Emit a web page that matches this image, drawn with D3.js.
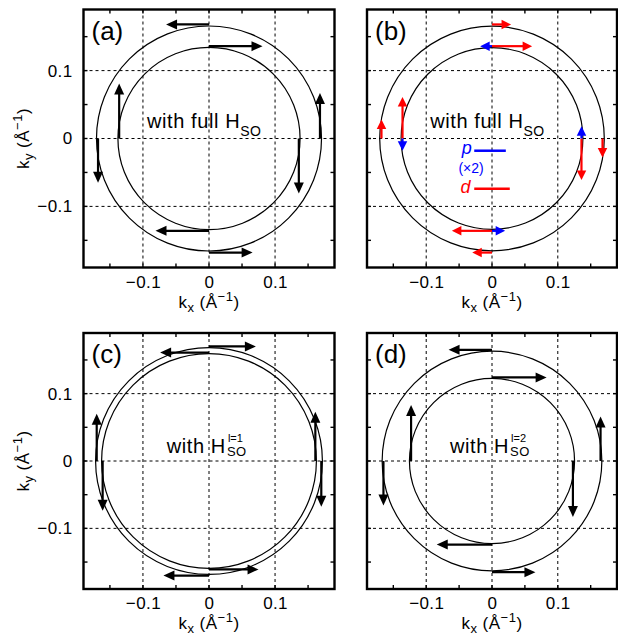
<!DOCTYPE html>
<html>
<head>
<meta charset="utf-8">
<script src="https://cdn.jsdelivr.net/npm/d3@7"></script>
<style>
body { margin: 0; background: #fff; }
text { font-family: "Liberation Sans", Arial, Helvetica, sans-serif; fill: #000; }
</style>
</head>
<body>
<div id="fig"></div>
<script>
// axis setup (1/Å)
var domain = [-0.19, 0.19];
var gridValues = [-0.1, 0, 0.1];
var minorValues = [-0.15, -0.1, -0.05, 0, 0.05, 0.1, 0.15];
var tickLabels = [-0.1, 0, 0.1];

// Fermi contour radii [outer, inner]
var ringsA = [0.168, 0.136];
var ringsB = [0.168, 0.136];
var ringsC = [0.170, 0.161];
var ringsD = [0.165, 0.124];

// spin arrows: [kx, ky, dkx, dky]
var arrowsA = [
  [0, 0.168, -0.065, 0], [0, 0.136, 0.081, 0],
  [-0.136, 0, 0, 0.081], [-0.168, 0, 0, -0.065],
  [0.136, 0, 0, -0.081], [0.168, 0, 0, 0.067],
  [0, -0.136, -0.081, 0], [0, -0.168, 0.066, 0]
];
var arrowsBd = [
  [0, 0.168, 0.029, 0], [0, 0.136, 0.061, 0],
  [-0.136, 0, 0, 0.061], [-0.168, 0, 0, 0.028],
  [0.136, 0, 0, -0.061], [0.168, 0, 0, -0.028],
  [0, -0.136, -0.061, 0], [0, -0.168, -0.030, 0]
];
var arrowsBp = [
  [0, 0.136, -0.018, 0], [-0.136, 0, 0, -0.018],
  [0.136, 0, 0, 0.018], [0, -0.136, 0.020, 0]
];
var arrowsC = [
  [0, 0.170, 0.071, 0], [0, 0.161, -0.074, 0],
  [-0.170, 0, 0, 0.070], [-0.161, 0, 0, -0.074],
  [0.161, 0, 0, 0.073], [0.170, 0, 0, -0.068],
  [0, -0.170, -0.069, 0], [0, -0.161, 0.075, 0]
];
var arrowsD = [
  [0, 0.165, -0.066, 0], [0, 0.124, 0.083, 0],
  [-0.123, 0, 0, 0.083], [-0.165, 0, 0, -0.066],
  [0.123, 0, 0, -0.083], [0.165, 0, 0, 0.066],
  [0, -0.124, -0.084, 0], [0, -0.165, 0.066, 0]
];

var panels = [
  {tag: "(a)", x: [83.5, 334.5], y: [9.5, 267.5], rings: ringsA, sets: [[arrowsA, "#000"]], label: "full", yAxis: true},
  {tag: "(b)", x: [367, 617], y: [9.5, 267.5], rings: ringsB, sets: [[arrowsBd, "#f00"], [arrowsBp, "#00f"]], label: "full", legend: true},
  {tag: "(c)", x: [83.5, 334.5], y: [333, 589], rings: ringsC, sets: [[arrowsC, "#000"]], label: "l=1", yAxis: true},
  {tag: "(d)", x: [367, 617], y: [333, 589], rings: ringsD, sets: [[arrowsD, "#000"]], label: "l=2"}
];

var svg = d3.select("#fig").append("svg")
  .attr("width", 618).attr("height", 640);

function drawArrow(g, sx, sy, a, color) {
  var x1 = sx(a[0]), y1 = sy(a[1]), x2 = sx(a[0] + a[2]), y2 = sy(a[1] + a[3]);
  var len = Math.hypot(x2 - x1, y2 - y1), ux = (x2 - x1) / len, uy = (y2 - y1) / len;
  var head = color == "#000" ? 11 : 9.5, hw = color == "#000" ? 10 : 9.5;
  var bx = x2 - ux * head, by = y2 - uy * head;
  g.append("line")
    .attr("x1", x1).attr("y1", y1).attr("x2", bx + ux).attr("y2", by + uy)
    .attr("stroke", color).attr("stroke-width", 2.2);
  g.append("polygon")
    .attr("points", [[x2, y2], [bx - uy * hw / 2, by + ux * hw / 2], [bx + uy * hw / 2, by - ux * hw / 2]].join(" "))
    .attr("fill", color);
}

function axisTitle(t, sub) {
  t.append("tspan").text("k");
  t.append("tspan").attr("dy", 4).style("font-size", "13px").text(sub);
  t.append("tspan").attr("dy", -4).text(" (\u00c5");
  t.append("tspan").attr("dy", -7).style("font-size", "13px").text("\u22121");
  t.append("tspan").attr("dy", 7).text(")");
}

panels.forEach(function(p) {
  var sx = d3.scaleLinear().domain(domain).range(p.x);
  var sy = d3.scaleLinear().domain(domain).range([p.y[1], p.y[0]]);
  var g = svg.append("g");

  // dashed grid
  g.selectAll(".gx").data(gridValues).enter().append("line")
    .attr("x1", d => sx(d)).attr("x2", d => sx(d))
    .attr("y1", p.y[0]).attr("y2", p.y[1])
    .attr("stroke", "#000").attr("stroke-width", 1).attr("stroke-dasharray", "3,3");
  g.selectAll(".gy").data(gridValues).enter().append("line")
    .attr("y1", d => sy(d)).attr("y2", d => sy(d))
    .attr("x1", p.x[0]).attr("x2", p.x[1])
    .attr("stroke", "#000").attr("stroke-width", 1).attr("stroke-dasharray", "3,3");

  // contours
  g.selectAll("circle").data(p.rings).enter().append("circle")
    .attr("cx", sx(0)).attr("cy", sy(0))
    .attr("r", d => (sx(d) - sx(0) + sy(0) - sy(d)) / 2)
    .attr("fill", "none").attr("stroke", "#000").attr("stroke-width", 1.2);

  // spin arrows
  p.sets.forEach(function(s) {
    s[0].forEach(function(a) { drawArrow(g, sx, sy, a, s[1]); });
  });

  // inner label
  if (p.label == "full") {
    var t = g.append("text")
      .attr("x", sx(-0.094)).attr("y", sy(0.016))
      .style("font-size", "20px").style("letter-spacing", "0.6px")
      .text("with full H");
    t.append("tspan").attr("dy", 8).style("font-size", "14px").style("letter-spacing", "0.5px").text("SO");
  } else {
    var tx = sx(-0.064), ty = sy(0.012);
    var t2 = g.append("text").attr("x", tx).attr("y", ty)
      .style("font-size", "20px").style("letter-spacing", "0.6px")
      .text("with H");
    var w = t2.node().getComputedTextLength();
    g.append("text").attr("x", tx + w + 1).attr("y", ty + 3)
      .style("font-size", "13px").style("letter-spacing", "0.5px").text("SO");
    g.append("text").attr("x", tx + w + 2).attr("y", ty - 11)
      .style("font-size", "11px").text(p.label);
  }

  // legend of panel (b)
  if (p.legend) {
    g.append("text").attr("x", sx(-0.046)).attr("y", sy(-0.023))
      .style("font-size", "18px").style("font-style", "italic").style("fill", "#00f").text("p");
    g.append("line").attr("x1", sx(-0.027)).attr("x2", sx(0.021))
      .attr("y1", sy(-0.018)).attr("y2", sy(-0.018))
      .attr("stroke", "#00f").attr("stroke-width", 2.5);
    g.append("text").attr("x", sx(-0.051)).attr("y", sy(-0.051))
      .style("font-size", "14px").style("fill", "#00f").text("(\u00d72)");
    g.append("text").attr("x", sx(-0.048)).attr("y", sy(-0.081))
      .style("font-size", "18px").style("font-style", "italic").style("fill", "#f00").text("d");
    g.append("line").attr("x1", sx(-0.027)).attr("x2", sx(0.027))
      .attr("y1", sy(-0.074)).attr("y2", sy(-0.074))
      .attr("stroke", "#f00").attr("stroke-width", 2.5);
  }

  // frame and inward ticks
  g.append("rect")
    .attr("x", p.x[0]).attr("y", p.y[0])
    .attr("width", p.x[1] - p.x[0]).attr("height", p.y[1] - p.y[0])
    .attr("fill", "none").attr("stroke", "#000").attr("stroke-width", 2.4);
  minorValues.forEach(function(v) {
    g.append("line").attr("x1", sx(v)).attr("x2", sx(v)).attr("y1", p.y[1]).attr("y2", p.y[1] - 4).attr("stroke", "#000").attr("stroke-width", 1.4);
    g.append("line").attr("x1", sx(v)).attr("x2", sx(v)).attr("y1", p.y[0]).attr("y2", p.y[0] + 4).attr("stroke", "#000").attr("stroke-width", 1.4);
    g.append("line").attr("y1", sy(v)).attr("y2", sy(v)).attr("x1", p.x[0]).attr("x2", p.x[0] + 4).attr("stroke", "#000").attr("stroke-width", 1.4);
    g.append("line").attr("y1", sy(v)).attr("y2", sy(v)).attr("x1", p.x[1]).attr("x2", p.x[1] - 4).attr("stroke", "#000").attr("stroke-width", 1.4);
  });

  // panel tag
  g.append("text").attr("x", p.x[0] + 8).attr("y", p.y[0] + 30)
    .style("font-size", "26px").text(p.tag);

  // tick labels
  var fmt = d3.format(".1~f");
  var xa = g.append("g").attr("transform", "translate(0," + p.y[1] + ")")
    .call(d3.axisBottom(sx).tickValues(tickLabels).tickSize(0).tickPadding(8).tickFormat(d => d == 0 ? "0" : fmt(d)));
  xa.select(".domain").remove();
  xa.selectAll("text").style("font-size", "17px").style("letter-spacing", "0.4px").attr("font-family", null);

  if (p.yAxis) {
    var ya = g.append("g").attr("transform", "translate(" + p.x[0] + ",0)")
      .call(d3.axisLeft(sy).tickValues(tickLabels).tickSize(0).tickPadding(11).tickFormat(d => d == 0 ? "0" : fmt(d)));
    ya.select(".domain").remove();
    ya.selectAll("text").style("font-size", "17px").style("letter-spacing", "0.4px").attr("font-family", null);

    var yt = g.append("text")
      .attr("transform", "translate(29," + sy(0) + ") rotate(-90)")
      .attr("text-anchor", "middle").style("font-size", "17px").style("letter-spacing", "0.5px");
    axisTitle(yt, "y");
  }

  var xt = g.append("text")
    .attr("x", sx(0)).attr("y", p.y[1] + 40)
    .attr("text-anchor", "middle").style("font-size", "17px").style("letter-spacing", "0.5px");
  axisTitle(xt, "x");
});
</script>
</body>
</html>
